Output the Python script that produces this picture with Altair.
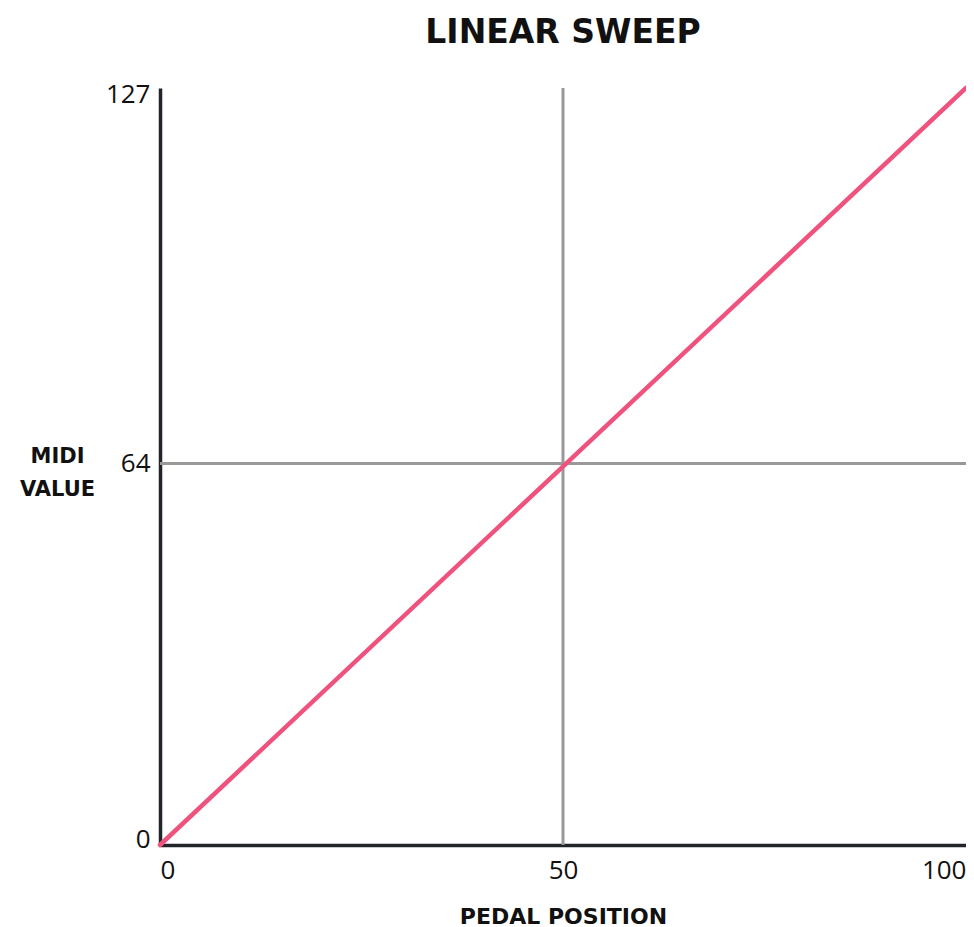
import altair as alt
import pandas as pd

pedal = [0, 100]
midi = [0, 127]
x_ticks = [0, 50, 100]
y_ticks = [0, 64, 127]
grid_x = [50]
grid_y = [64]

line_df = pd.DataFrame({"pedal": pedal, "midi": midi})
gx_df = pd.DataFrame({"gx": grid_x})
gy_df = pd.DataFrame({"gy": grid_y})

xscale = alt.Scale(domain=[0, 100], nice=False, zero=False)
yscale = alt.Scale(domain=[0, 127], nice=False, zero=False)

label_font = "Open Sans"
title_font = "DejaVu Sans"

vrule = alt.Chart(gx_df).mark_rule(color="#999999", strokeWidth=3).encode(
    x=alt.X("gx:Q", scale=xscale)
)
hrule = alt.Chart(gy_df).mark_rule(color="#999999", strokeWidth=3).encode(
    y=alt.Y("gy:Q", scale=yscale)
)

line = alt.Chart(line_df).mark_line(color="#F0527E", strokeWidth=4.5, strokeCap="round").encode(
    x=alt.X(
        "pedal:Q",
        scale=xscale,
        axis=alt.Axis(
            values=x_ticks,
            grid=False,
            ticks=False,
            domainColor="#212529",
            domainWidth=3.5,
            labelFont=label_font,
            labelFontSize=26,
            labelColor="#111111",
            labelPadding=12,
            labelFlush=True,
            labelFlushOffset=0,
            title="PEDAL POSITION",
            titleFont=title_font,
            titleFontSize=22,
            titleFontWeight=700,
            titleColor="#111111",
            titleY=71,
            titleBaseline="middle",
        ),
    ),
    y=alt.Y(
        "midi:Q",
        scale=yscale,
        axis=alt.Axis(
            values=y_ticks,
            grid=False,
            ticks=False,
            domainColor="#212529",
            domainWidth=3.5,
            labelFont=label_font,
            labelFontSize=26,
            labelColor="#111111",
            labelPadding=10,
            labelFlush=True,
            labelFlushOffset=7,
            title=["MIDI", "VALUE"],
            titleFont=title_font,
            titleFontSize=21,
            titleFontWeight=700,
            titleColor="#111111",
            titleAngle=0,
            titleAlign="center",
            titleBaseline="middle",
            titleLineHeight=33,
            titleX=-103,
            titleY=368,
        ),
    ),
)

chart = (
    alt.layer(vrule, hrule, line)
    .properties(
        width=806,
        height=757,
        background="white",
        title=alt.TitleParams(
            "LINEAR SWEEP",
            font=title_font,
            fontSize=33,
            fontWeight=700,
            color="#111111",
            anchor="middle",
            offset=29,
        ),
        autosize=alt.AutoSizeParams(type="none"),
        padding={"left": 152, "top": 80, "right": 0, "bottom": 82},
    )
    .configure_view(stroke=None)
)

chart.save("out.html", embed_options={"renderer": "svg", "actions": False})
